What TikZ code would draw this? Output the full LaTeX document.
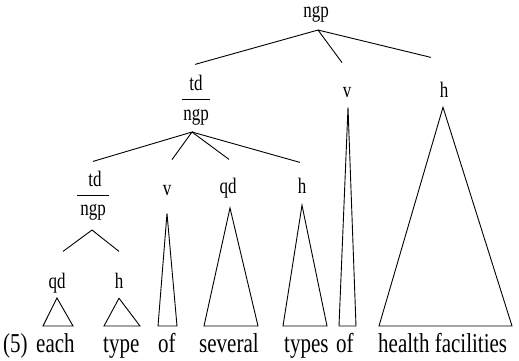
\documentclass[tikz,border=0pt]{standalone}
\usepackage{fontspec}
\setmainfont{Liberation Serif}
\usepackage{tikz}

\tikzset{
  lab/.style={inner sep=0pt, anchor=base, yscale=1.3, font=\fontsize{17}{17}\selectfont},
  word/.style={inner sep=0pt, anchor=base west, yscale=1.3, font=\fontsize{21}{21}\selectfont},
  branch/.style={line width=0.9pt},
  tri/.style={line width=0.9pt, line join=miter}
}

\begin{document}
\begin{tikzpicture}[x=1pt,y=-1pt]
\useasboundingbox (0,0) rectangle (519,361);

% category labels
\node[lab] (ngp0) at (316,18) {ngp};
\node[lab] (tdA)  at (196,90) {td};
\node[lab] (ngpA) at (196,120) {ngp};
\node[lab] (vA)   at (347,97) {v};
\node[lab] (hA)   at (444,97) {h};
\node[lab] (tdB)  at (95,186) {td};
\node[lab] (ngpB) at (93,215) {ngp};
\node[lab] (vB)   at (167,195) {v};
\node[lab] (qdB)  at (228,193) {qd};
\node[lab] (hB)   at (302,193) {h};
\node[lab] (qdC)  at (57,288) {qd};
\node[lab] (hC)   at (119,288) {h};

% the sentence
\node[word] (num)     at (3,352)   {(5)};
\node[word] (each)    at (36,352)  {each};
\node[word] (type)    at (103,352) {type};
\node[word] (of1)     at (158,352) {of};
\node[word] (several) at (199,352) {several};
\node[word] (types)   at (284,352) {types};
\node[word] (of2)     at (336,352) {of};
\node[word] (health)  at (378,352) {health facilities};

% fraction bars
\draw[branch] ([xshift=-1pt,yshift=9pt]ngpA.north west) -- ([xshift=1pt,yshift=9pt]ngpA.north east);
\draw[branch] ([xshift=-3pt,yshift=8pt]ngpB.north west) -- ([xshift=3pt,yshift=8pt]ngpB.north east);

% branches
\draw[branch] ([xshift=-1pt,yshift=10pt]tdA.north) -- ([xshift=2pt,yshift=-7pt]ngp0.south)
  -- ([xshift=-5pt,yshift=24pt]vA.north);
\draw[branch] ([xshift=2pt,yshift=-7pt]ngp0.south) -- ([xshift=-13pt,yshift=24pt]hA.north);

\draw[branch] ([xshift=-2pt,yshift=9pt]tdB.north) -- ([xshift=-4pt,yshift=-7pt]ngpA.south)
  -- ([xshift=5pt,yshift=25pt]vB.north);
\draw[branch] ([xshift=-4pt,yshift=-7pt]ngpA.south) -- ([xshift=1pt,yshift=18pt]qdB.north);
\draw[branch] ([xshift=-4pt,yshift=-7pt]ngpA.south) -- ([xshift=-2pt,yshift=15pt]hB.north);

\draw[branch] ([xshift=6pt,yshift=21pt]qdC.north) -- ([xshift=-1pt,yshift=-10pt]ngpB.south)
  -- ([yshift=21pt]hC.north);

% triangles
\draw[tri] ([yshift=-5pt]qdC.south) -- (43,326) -- (73,326) -- cycle;
\draw[tri] ([yshift=-10pt]hC.south) -- (104,326) -- (140,326) -- cycle;
\draw[tri] ([yshift=-18pt]vB.south) -- (158,326) -- (177,326) -- cycle;
\draw[tri] ([xshift=2pt,yshift=-10pt]qdB.south) -- (204,326) -- (258,326) -- cycle;
\draw[tri] ([yshift=-12pt]hB.south) -- (283,326) -- (327,326) -- cycle;
\draw[tri] ([xshift=1pt,yshift=-10pt]vA.south) -- (339,326) -- (356,326) -- cycle;
\draw[tri] ([xshift=-1pt,yshift=-10pt]hA.south) -- (379,326) -- (512,326) -- cycle;
\end{tikzpicture}
\end{document}
